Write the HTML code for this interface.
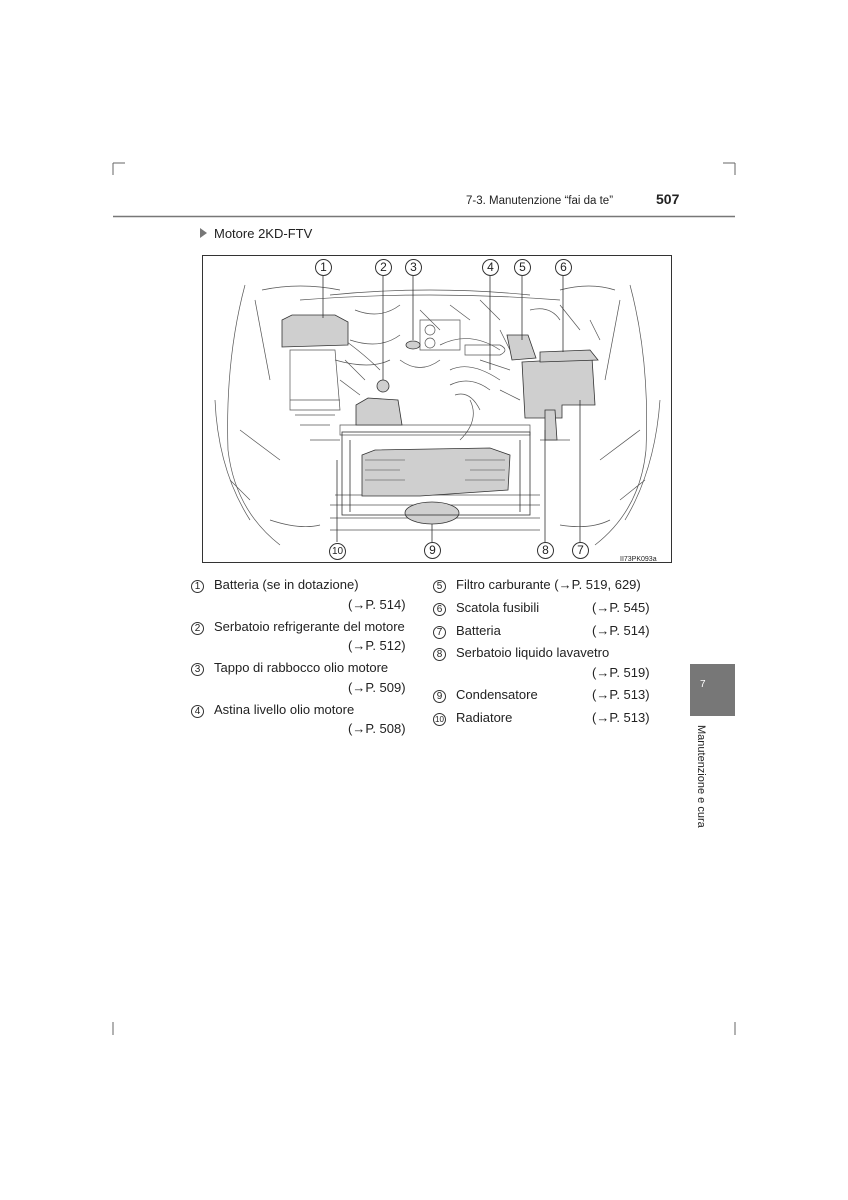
<!DOCTYPE html>
<html><head><meta charset="utf-8"><style>
body{margin:0;background:#fff;width:848px;height:1200px;position:relative;font-family:"Liberation Sans",sans-serif;color:#222;overflow:hidden}
.a{position:absolute;white-space:nowrap;font-size:13px;line-height:15px}
.c{display:inline-block;width:13px;height:13px;border:1px solid #333;border-radius:50%;font-size:10px;line-height:12px;text-align:center;box-sizing:border-box}
.d{display:inline-block;width:17px;height:17px;border:1px solid #333;border-radius:50%;font-size:12px;line-height:15px;text-align:center;box-sizing:border-box;background:#fff}
</style></head><body>
<svg width="848" height="1200" style="position:absolute;left:0;top:0">
<g stroke="#666" stroke-width="1" fill="none">
<path d="M113 163v12M113 163h12M735 163v12M735 163h-12M113 1022v13M735 1022v13"/>
</g>
<line x1="113" y1="216.5" x2="735" y2="216.5" stroke="#777" stroke-width="1.5"/>
<rect x="690" y="664" width="45" height="52" fill="#777"/>
<polygon points="200,228 207,233 200,238" fill="#777"/>
<rect x="202.5" y="255.5" width="469" height="307" fill="#fff" stroke="#333"/>
<g stroke="#555" stroke-width="0.7" fill="none">
<path d="M245 285 Q225 360 228 450 Q235 510 280 545 M630 285 Q650 360 646 450 Q640 510 595 545"/>
<path d="M262 290 Q300 282 340 290 M560 290 Q590 282 615 290 M255 300 L270 380 M620 300 L605 380"/>
<path d="M215 400 Q218 470 250 520 M660 400 Q655 470 625 520"/>
<path d="M330 295 Q430 285 530 295 M300 300 Q430 290 560 300"/>
<path d="M355 310 Q380 320 400 305 M420 310 L440 330 M450 305 L470 320 M480 300 L500 320 M350 340 Q380 350 400 335 M440 345 Q470 330 500 350"/>
<path d="M335 360 Q370 370 390 360 M400 360 Q420 375 440 360 M450 370 Q470 360 500 380 M340 380 L360 395 M450 385 Q470 375 490 390 M500 390 L520 400"/>
<path d="M420 320 L460 320 L460 350 L420 350 Z M425 330 a5 5 0 1 0 10 0 a5 5 0 1 0 -10 0 M425 343 a5 5 0 1 0 10 0 a5 5 0 1 0 -10 0"/>
<path d="M465 345 L500 345 Q510 350 500 355 L465 355 Z"/>
<path d="M290 350 L335 350 L340 410 L290 410 Z M290 400 L340 400 M295 415 L335 415 M300 425 L330 425"/>
<path d="M330 330 Q360 350 380 370 M345 360 L365 380 M470 400 Q480 420 460 440 M455 395 Q470 390 480 410"/>
<path d="M530 310 Q550 305 560 320 M560 305 L580 330 M590 320 L600 340 M500 330 L510 350 M480 360 L510 370"/>
<path d="M310 440 L340 440 M540 440 L570 440 M240 430 L280 460 M640 430 L600 460"/>
<path d="M340 425 L530 425 L530 435 L340 435 Z"/>
<path d="M330 505 L540 505 M330 518 L540 518 M330 530 L540 530 M335 495 L540 495"/>
<path d="M270 520 Q300 530 320 525 M560 525 Q590 530 610 520 M230 480 L250 500 M620 500 L645 480"/>
</g>
<g fill="#cfcfcf" stroke="#333" stroke-width="0.8">
<path d="M282 320 L292 315 L335 315 L348 322 L348 345 L282 347 Z"/>
<path d="M522 362 L592 358 L595 405 L562 405 L562 418 L525 418 Z"/>
<path d="M540 352 L590 350 L598 360 L540 362 Z"/>
<path d="M356 405 L368 398 L398 400 L402 425 L356 425 Z"/>
<circle cx="383" cy="386" r="6"/>
<ellipse cx="413" cy="345" rx="7" ry="4"/>
<path d="M507 335 L528 335 L536 358 L512 360 Z"/>
<path d="M362 455 L375 450 L490 448 L510 455 L508 490 L420 496 L362 496 Z"/>
<ellipse cx="432" cy="513" rx="27" ry="11"/>
<path d="M545 410 L555 410 L557 440 L545 440 Z"/>
</g>
<g stroke="#444" stroke-width="0.5">
<path d="M365 460h40M365 470h35M365 480h40M465 460h40M470 470h35M465 480h40"/>
</g>
<g stroke="#333" stroke-width="0.8" fill="none">
<rect x="342" y="432" width="188" height="83"/>
<path d="M350 440 L350 512 M520 440 L520 512"/>
<path d="M323 276 L323 318 M383 276 L383 380 M413 276 L413 340 M490 276 L490 370 M522 276 L522 340 M563 276 L563 352 M337 542 L337 460 M432 542 L432 524 M545 542 L545 430 M580 542 L580 400"/>
</g>
</svg>
<div class="a" style="left:466px;top:194px;font-size:11.5px">7-3. Manutenzione “fai da te”</div>
<div class="a" style="left:656px;top:192px;font-size:14px;font-weight:bold">507</div>
<div class="a" style="left:214px;top:226px">Motore 2KD-FTV</div>
<div class="a" style="left:700px;top:677px;color:#fff;font-size:10px">7</div>
<div class="a" style="left:693px;top:725px;font-size:11px;writing-mode:vertical-rl">Manutenzione e cura</div>
<div class="a" style="left:315px;top:259px"><span class="d">1</span></div>
<div class="a" style="left:375px;top:259px"><span class="d">2</span></div>
<div class="a" style="left:405px;top:259px"><span class="d">3</span></div>
<div class="a" style="left:482px;top:259px"><span class="d">4</span></div>
<div class="a" style="left:514px;top:259px"><span class="d">5</span></div>
<div class="a" style="left:555px;top:259px"><span class="d">6</span></div>
<div class="a" style="left:329px;top:542px"><span class="d" style="font-size:10px">10</span></div>
<div class="a" style="left:424px;top:542px"><span class="d">9</span></div>
<div class="a" style="left:537px;top:542px"><span class="d">8</span></div>
<div class="a" style="left:572px;top:542px"><span class="d">7</span></div>
<div class="a" style="left:620px;top:552px;font-size:7px">II73PK093a</div>

<div class="a" style="left:191px;top:577px"><span class="c">1</span></div><div class="a" style="left:214px;top:577px">Batteria (se in dotazione)</div>
<div class="a" style="left:348px;top:597px">(→P. 514)</div>
<div class="a" style="left:191px;top:619px"><span class="c">2</span></div><div class="a" style="left:214px;top:619px">Serbatoio refrigerante del motore</div>
<div class="a" style="left:348px;top:638px">(→P. 512)</div>
<div class="a" style="left:191px;top:660px"><span class="c">3</span></div><div class="a" style="left:214px;top:660px">Tappo di rabbocco olio motore</div>
<div class="a" style="left:348px;top:680px">(→P. 509)</div>
<div class="a" style="left:191px;top:702px"><span class="c">4</span></div><div class="a" style="left:214px;top:702px">Astina livello olio motore</div>
<div class="a" style="left:348px;top:721px">(→P. 508)</div>

<div class="a" style="left:433px;top:577px"><span class="c">5</span></div><div class="a" style="left:456px;top:577px">Filtro carburante (→P. 519, 629)</div>
<div class="a" style="left:433px;top:600px"><span class="c">6</span></div><div class="a" style="left:456px;top:600px">Scatola fusibili</div><div class="a" style="left:592px;top:600px">(→P. 545)</div>
<div class="a" style="left:433px;top:623px"><span class="c">7</span></div><div class="a" style="left:456px;top:623px">Batteria</div><div class="a" style="left:592px;top:623px">(→P. 514)</div>
<div class="a" style="left:433px;top:645px"><span class="c">8</span></div><div class="a" style="left:456px;top:645px">Serbatoio liquido lavavetro</div>
<div class="a" style="left:592px;top:665px">(→P. 519)</div>
<div class="a" style="left:433px;top:687px"><span class="c">9</span></div><div class="a" style="left:456px;top:687px">Condensatore</div><div class="a" style="left:592px;top:687px">(→P. 513)</div>
<div class="a" style="left:433px;top:710px"><span class="c" style="font-size:8px">10</span></div><div class="a" style="left:456px;top:710px">Radiatore</div><div class="a" style="left:592px;top:710px">(→P. 513)</div>
</body></html>
